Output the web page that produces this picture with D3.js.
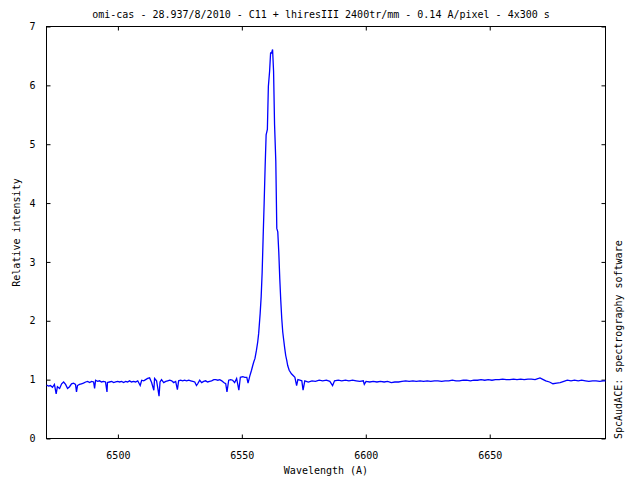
<!DOCTYPE html>
<head>
  <meta charset="utf-8">
  <script src="https://d3js.org/d3.v7.min.js"></script>
  <style>
    body { margin:0; background:#fff; }
    svg { display:block; }
    text { font-family: "DejaVu Sans Mono", monospace; font-size: 10px; fill: #000; }
  </style>
</head>

<body>
  <svg width="640" height="480"></svg>
  <script>
    var title = 'omi-cas - 28.937/8/2010 - C11 + lhiresIII 2400tr/mm - 0.14 A/pixel - 4x300 s';
    var xTicks = [6500, 6550, 6600, 6650];
    var yTicks = [0, 1, 2, 3, 4, 5, 6, 7];

    // wavelength (A) and relative intensity
    var wave = [
      6471.2, 6472.0, 6472.8, 6473.6, 6474.4, 6475.1, 6475.6, 6476.5, 6477.3, 6478.1,
      6478.9, 6479.7, 6480.5, 6481.3, 6482.1, 6482.9, 6483.3, 6483.7, 6484.5, 6485.3,
      6486.1, 6487.0, 6487.8, 6488.6, 6489.4, 6490.2, 6490.6, 6491.0, 6491.8, 6492.6,
      6493.4, 6494.2, 6495.0, 6495.6, 6495.8, 6496.6, 6497.5, 6498.3, 6499.1, 6499.9,
      6500.7, 6501.5, 6502.3, 6503.1, 6503.9, 6504.7, 6505.5, 6506.3, 6507.1, 6508.0,
      6509.0, 6509.6, 6510.4, 6511.2, 6512.0, 6512.8, 6513.6, 6514.5, 6514.8, 6515.6,
      6516.0, 6516.6, 6517.0, 6517.6, 6518.5, 6519.3, 6520.1, 6520.9, 6521.7, 6522.5,
      6523.3, 6524.0, 6524.5, 6525.3, 6526.1, 6526.9, 6527.7, 6528.6, 6529.4, 6530.2,
      6531.0, 6531.7, 6532.2, 6533.0, 6533.8, 6534.6, 6535.4, 6536.2, 6537.0, 6537.8,
      6538.7, 6539.5, 6540.3, 6541.1, 6541.9, 6542.7, 6543.5, 6544.0, 6544.7, 6545.5,
      6546.3, 6547.1, 6547.9, 6548.8, 6549.4, 6550.4, 6551.2, 6552.0, 6552.5, 6553.2,
      6553.9, 6554.4, 6554.8, 6555.3, 6555.9, 6556.4, 6556.8, 6557.4, 6557.8, 6558.2,
      6558.6, 6559.0, 6559.4, 6559.8, 6560.3, 6560.7, 6561.2, 6561.6, 6562.0, 6562.4,
      6562.8, 6563.2, 6563.7, 6564.1, 6564.5, 6564.9, 6565.3, 6565.7, 6566.1, 6566.5,
      6566.9, 6567.3, 6567.7, 6568.1, 6568.5, 6569.1, 6570.0, 6570.7, 6571.4, 6572.1,
      6572.6, 6573.4, 6574.2, 6574.7, 6575.4, 6576.8, 6578.3, 6579.7, 6581.2, 6582.6,
      6584.1, 6585.5, 6586.6, 6587.4, 6588.9, 6590.3, 6591.8, 6593.2, 6594.7, 6596.1,
      6597.6, 6599.0, 6599.4, 6600.1, 6601.6, 6603.0, 6604.5, 6605.9, 6607.4, 6608.8,
      6610.3, 6611.7, 6613.2, 6614.6, 6616.1, 6617.5, 6619.0, 6620.4, 6621.9, 6623.3,
      6624.8, 6626.2, 6627.7, 6629.1, 6630.6, 6632.0, 6633.5, 6634.9, 6636.4, 6637.8,
      6639.3, 6640.7, 6642.2, 6643.6, 6645.1, 6646.5, 6648.0, 6649.4, 6650.9, 6652.3,
      6653.8, 6655.2, 6656.7, 6658.1, 6659.6, 6661.0, 6662.5, 6663.9, 6665.4, 6666.8,
      6668.3, 6669.7, 6670.3, 6671.2, 6672.6, 6674.1, 6675.5, 6677.0, 6678.4, 6679.9,
      6681.3, 6682.8, 6684.2, 6685.7, 6687.1, 6688.6, 6690.0, 6691.5, 6692.9, 6694.4,
      6695.8, 6696.7
    ];
    var flux = [
      0.91, 0.89, 0.90, 0.87, 0.92, 0.76, 0.88, 0.85, 0.93, 0.96,
      0.92, 0.85, 0.88, 0.93, 0.94, 0.92, 0.79, 0.90, 0.92, 0.93,
      0.94, 0.96, 0.97, 0.95, 0.97, 0.96, 0.85, 0.99, 0.97, 0.98,
      0.96, 0.97, 0.96, 0.79, 0.95, 0.96, 0.97, 0.95, 0.96, 0.97,
      0.96, 0.97, 0.95, 0.97, 0.96, 0.98, 0.96, 0.97, 0.96, 0.98,
      0.90, 0.99, 0.98, 1.00, 1.02, 1.03, 0.95, 0.82, 1.02, 0.98,
      0.88, 0.72, 0.96, 1.00, 0.95, 0.97, 0.98, 0.99, 0.98, 0.95,
      0.97, 0.83, 0.98, 0.99, 0.98, 0.99, 0.98, 0.99, 0.98, 0.97,
      0.96, 0.90, 0.93, 0.99, 0.95, 0.97, 0.98, 0.96, 0.97, 0.98,
      1.00, 1.00, 0.99, 1.00, 0.98, 0.95, 0.93, 0.79, 0.99, 1.00,
      0.99, 0.95, 1.02, 0.82, 1.04, 1.05, 1.04, 1.04, 0.94, 1.06,
      1.16, 1.24, 1.30, 1.36, 1.50, 1.64, 1.79, 2.13, 2.41, 2.83,
      3.43, 4.00, 4.62, 5.16, 5.25, 5.98, 6.24, 6.55, 6.55, 6.61,
      6.24, 5.33, 4.71, 3.57, 3.51, 3.17, 2.72, 2.35, 2.04, 1.81,
      1.67, 1.53, 1.41, 1.33, 1.24, 1.16, 1.10, 1.07, 1.04, 0.90,
      1.00, 0.99, 0.98, 0.82, 0.98, 0.96, 0.98, 0.97, 0.99, 0.98,
      0.99, 0.97, 0.90, 0.98, 0.99, 0.98, 0.99, 0.98, 0.99, 0.98,
      0.97, 0.98, 0.92, 0.97, 0.96, 0.97, 0.96, 0.97, 0.96, 0.97,
      0.95, 0.96, 0.96, 0.97, 0.98, 0.97, 0.98, 0.97, 0.98, 0.97,
      0.98, 0.97, 0.98, 0.98, 0.97, 0.98, 0.98, 0.99, 0.98, 0.98,
      0.99, 0.99, 0.98, 0.99, 0.99, 1.00, 0.99, 1.00, 0.99, 1.00,
      1.00, 1.01, 1.00, 1.00, 1.01, 1.00, 1.01, 1.00, 1.01, 1.01,
      1.00, 1.02, 1.03, 1.01, 0.98, 0.96, 0.93, 0.94, 0.95, 0.97,
      0.99, 0.98, 0.99, 0.98, 0.99, 0.98, 0.97, 0.98, 0.98, 0.97,
      0.98, 0.98
    ];

    var data = wave.map((w, i) => ({ w: w, f: flux[i] }));

    var margin = {top: 26.5, right: 34.5, bottom: 41.5, left: 46.5};
    var width = 640, height = 480;

    var xScale = d3.scaleLinear()
      .domain([6471.2, 6696.7])
      .range([margin.left, width - margin.right]);
    var yScale = d3.scaleLinear()
      .domain([0, 7])
      .range([height - margin.bottom, margin.top]);

    var svg = d3.select('svg');

    // axes with inward ticks, mirrored like gnuplot
    var tick = -4;
    var fmt = d3.format('d');
    svg.append('g')
      .attr('transform', 'translate(0,' + (height - margin.bottom) + ')')
      .call(d3.axisBottom(xScale).tickValues(xTicks).tickFormat(fmt).tickSize(tick).tickPadding(13));
    svg.append('g')
      .attr('transform', 'translate(0,' + margin.top + ')')
      .call(d3.axisTop(xScale).tickValues(xTicks).tickSize(tick).tickFormat(''));
    svg.append('g')
      .attr('transform', 'translate(' + margin.left + ',0)')
      .call(d3.axisLeft(yScale).tickValues(yTicks).tickFormat(fmt).tickSize(tick).tickPadding(11));
    svg.append('g')
      .attr('transform', 'translate(' + (width - margin.right) + ',0)')
      .call(d3.axisRight(yScale).tickValues(yTicks).tickSize(tick).tickFormat(''));

    svg.selectAll('.domain').remove();
    svg.selectAll('.tick line').attr('stroke', '#000');
    svg.selectAll('.tick text')
      .style('font-family', '"DejaVu Sans Mono", monospace')
      .style('font-size', '10px');

    svg.append('rect')
      .attr('x', margin.left).attr('y', margin.top)
      .attr('width', width - margin.left - margin.right)
      .attr('height', height - margin.top - margin.bottom)
      .attr('fill', 'none').attr('stroke', '#000');

    var line = d3.line()
      .x(d => xScale(d.w))
      .y(d => yScale(d.f));

    svg.append('path')
      .datum(data)
      .attr('d', line)
      .attr('fill', 'none')
      .attr('stroke', '#0000ff')
      .attr('stroke-width', 1.3);

    svg.append('text')
      .attr('x', 321).attr('y', 18)
      .attr('text-anchor', 'middle')
      .text(title);

    svg.append('text')
      .attr('x', (margin.left + width - margin.right) / 2).attr('y', 474)
      .attr('text-anchor', 'middle')
      .text('Wavelength (A)');

    svg.append('text')
      .attr('transform', 'translate(20,' + ((margin.top + height - margin.bottom) / 2) + ') rotate(-90)')
      .attr('text-anchor', 'middle')
      .text('Relative intensity');

    svg.append('text')
      .attr('transform', 'translate(622,439) rotate(-90)')
      .attr('text-anchor', 'start')
      .text('SpcAudACE: spectrography software');
  </script>
</body>
